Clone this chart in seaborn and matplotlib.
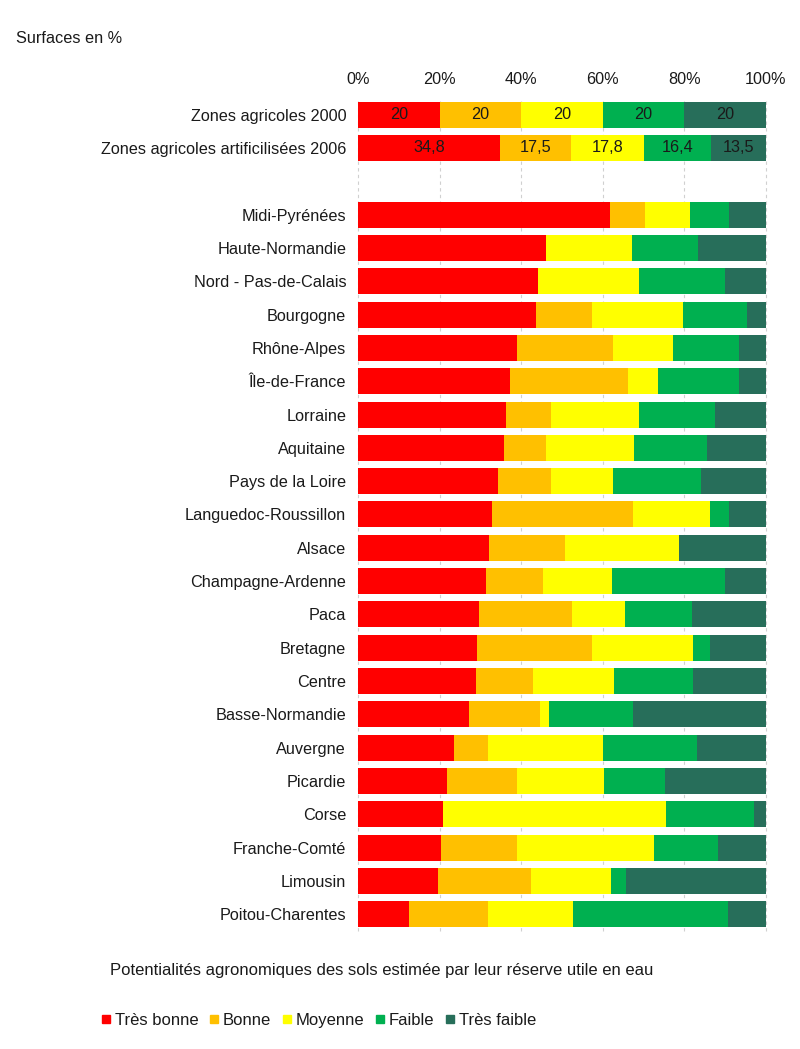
import numpy as np
import pandas as pd
import matplotlib
matplotlib.use("Agg")
import matplotlib.pyplot as plt
import seaborn as sns
from matplotlib.lines import Line2D

sns.set_theme(style="white")
plt.rcParams['font.family'] = ['Liberation Sans', 'DejaVu Sans']

categories = [
    "Zones agricoles 2000", "Zones agricoles artificilisées 2006", " ",
    "Midi-Pyrénées", "Haute-Normandie", "Nord - Pas-de-Calais", "Bourgogne",
    "Rhône-Alpes", "Île-de-France", "Lorraine", "Aquitaine", "Pays de la Loire",
    "Languedoc-Roussillon", "Alsace", "Champagne-Ardenne", "Paca", "Bretagne",
    "Centre", "Basse-Normandie", "Auvergne", "Picardie", "Corse",
    "Franche-Comté", "Limousin", "Poitou-Charentes",
]
series_names = ["Très bonne", "Bonne", "Moyenne", "Faible", "Très faible"]

tres_bonne = [20, 34.8, np.nan, 61.8, 46.0, 44.2, 43.7, 39.0, 37.3, 36.2, 35.9, 34.4,
              32.9, 32.1, 31.3, 29.6, 29.2, 28.8, 27.1, 23.5, 21.9, 20.9, 20.3, 19.5, 12.6]
bonne = [20, 17.5, np.nan, 8.6, 0.0, 0.0, 13.7, 23.6, 28.9, 11.1, 10.1, 12.9,
         34.5, 18.6, 14.1, 22.8, 28.2, 14.1, 17.4, 8.4, 17.1, 0.0, 18.6, 22.9, 19.2]
moyenne = [20, 17.8, np.nan, 11.0, 21.1, 24.6, 22.3, 14.5, 7.3, 21.5, 21.7, 15.3,
           18.8, 28.0, 16.9, 13.0, 24.6, 19.8, 2.2, 28.1, 21.2, 54.7, 33.7, 19.7, 21.0]
faible = [20, 16.4, np.nan, 9.5, 16.2, 21.2, 15.7, 16.3, 19.9, 18.7, 17.9, 21.5,
          4.7, 0.0, 27.6, 16.4, 4.2, 19.4, 20.7, 23.1, 15.1, 21.5, 15.7, 3.5, 37.9]
tres_faible = [20, 13.5, np.nan, 9.1, 16.7, 10.0, 4.6, 6.6, 6.6, 12.5, 14.4, 15.9,
               9.1, 21.3, 10.1, 18.2, 13.8, 17.9, 32.6, 16.9, 24.7, 2.9, 11.7, 34.4, 9.3]
label_rows = {
    "Zones agricoles 2000": ["20", "20", "20", "20", "20"],
    "Zones agricoles artificilisées 2006": ["34,8", "17,5", "17,8", "16,4", "13,5"],
}
tick_values = [0, 20, 40, 60, 80, 100]
tick_labels = ["0%", "20%", "40%", "60%", "80%", "100%"]

colors = ["#FF0000", "#FFC000", "#FFFF00", "#00B050", "#276E5A"]
FS = 11.7
TXT = "#1a1a1a"

df = pd.DataFrame({"cat": categories, "Très bonne": tres_bonne, "Bonne": bonne,
                   "Moyenne": moyenne, "Faible": faible, "Très faible": tres_faible})
cum = df[series_names].cumsum(axis=1)

fig = plt.figure(figsize=(8, 10.49), dpi=100)
ax = fig.add_axes([0.4475, 0.1125, 0.51, 0.7941])

# draw cumulative totals from the last series to the first so they stack visually
for name, col in reversed(list(zip(series_names, colors))):
    data = pd.DataFrame({"cat": df["cat"], "val": cum[name]}).dropna()
    sns.barplot(data=data, x="val", y="cat", order=categories, color=col,
                orient="h", width=0.78, saturation=1, ax=ax, zorder=3,
                linewidth=0)

# segment labels for the first two rows
for cat, labs in label_rows.items():
    i = categories.index(cat)
    start = 0
    for name, lab in zip(series_names, labs):
        v = df.loc[i, name]
        ax.text(start + v / 2, i, lab, ha="center", va="center", fontsize=FS,
                color=TXT, zorder=5)
        start += v

ax.set_xlim(0, 100)
ax.set_ylim(len(categories) - 0.5, -0.5)
ax.set_xticks(tick_values)
ax.set_xticklabels(tick_labels)
ax.xaxis.tick_top()
ax.tick_params(axis="x", length=0, pad=8, labelsize=FS, colors=TXT)
ax.tick_params(axis="y", length=0, pad=8.5, labelsize=FS, colors=TXT)
ax.set_xlabel("")
ax.set_ylabel("")
for s in ax.spines.values():
    s.set_visible(False)
ax.grid(axis="x", linestyle=(0, (3, 3)), color="#D0D0D0", linewidth=0.8, zorder=0)
for gl in ax.get_xgridlines():
    gl.set_clip_on(False)
ax.set_axisbelow(True)

fig.text(0.02, 0.9637, "Surfaces en %", fontsize=FS, color=TXT,
         ha="left", va="center")
fig.text(0.1375, 0.0753, "Potentialités agronomiques des sols estimée par leur réserve utile en eau",
         fontsize=12, color=TXT, ha="left", va="center")

handles = [Line2D([0], [0], marker="s", linestyle="", markersize=5.5,
                  markerfacecolor=c, markeredgecolor=c) for c in colors]
fig.legend(handles, series_names, loc="center left", bbox_to_anchor=(0.126, 0.027),
           ncol=5, frameon=False, fontsize=12, handletextpad=0.25, borderpad=0,
           borderaxespad=0, columnspacing=0.62, handlelength=0.6, labelcolor=TXT)

fig.savefig("out.png", dpi=100)
